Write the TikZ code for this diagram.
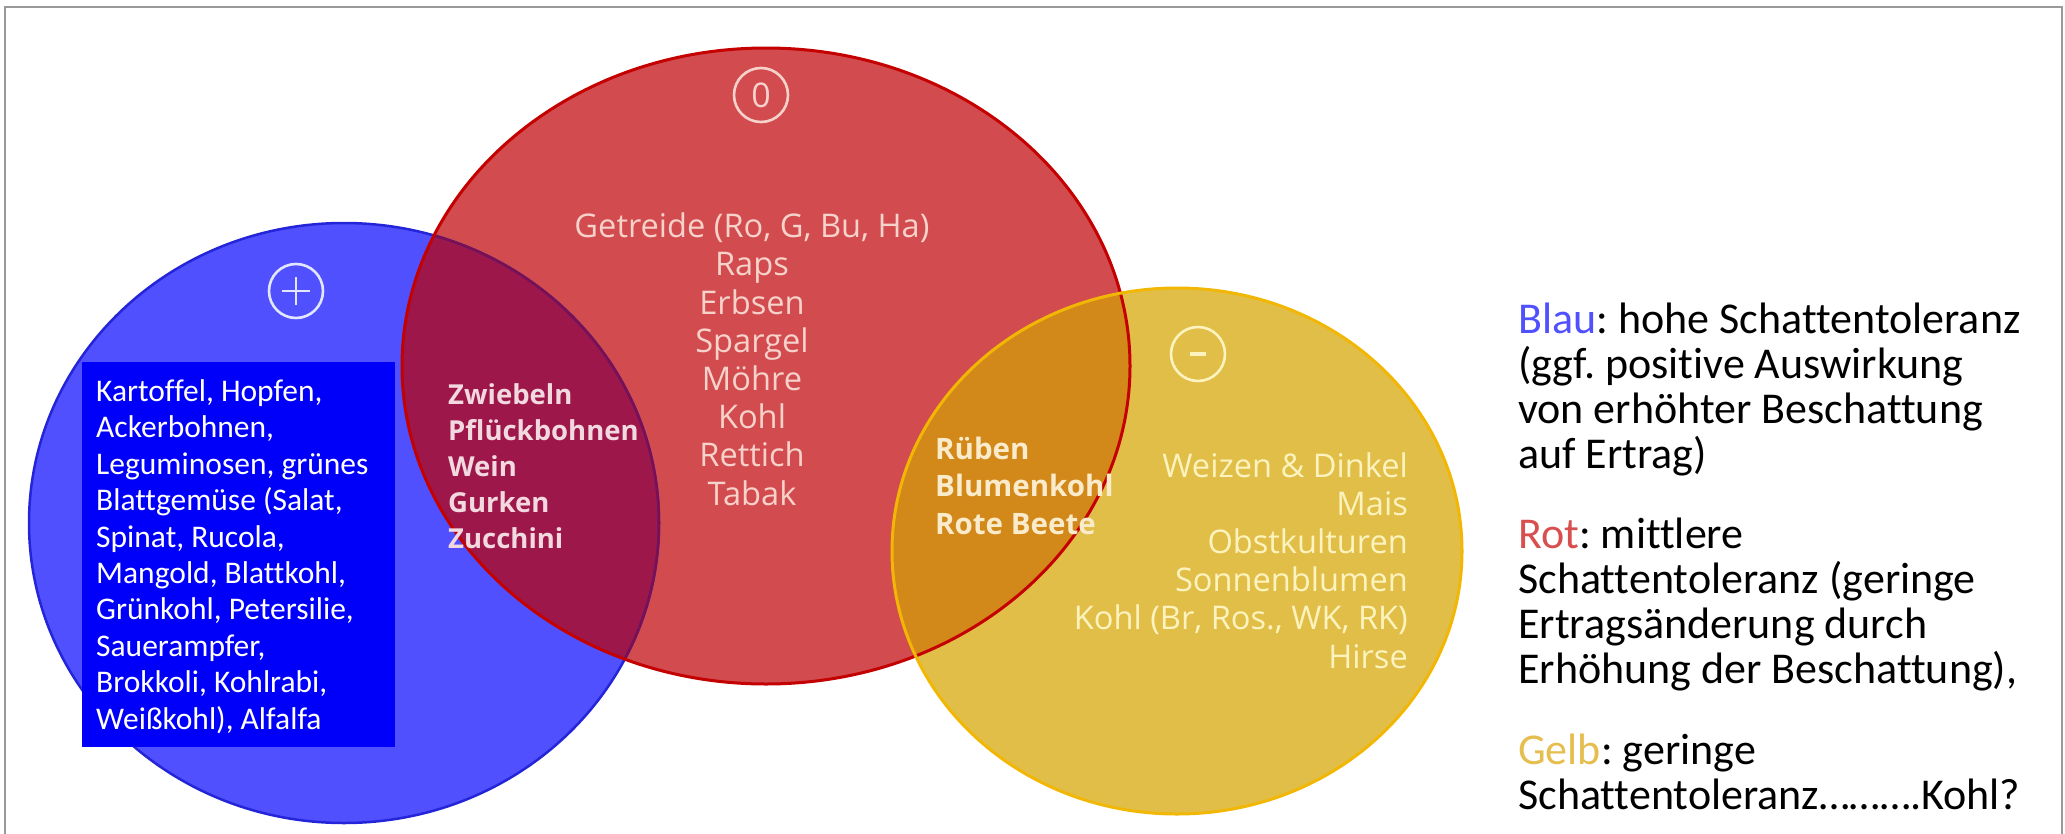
\documentclass[tikz,border=0pt]{standalone}
\usepackage{fontspec}
\setmainfont[Ligatures=NoCommon]{Carlito}
\newfontfamily\osans{Open Sans}
\definecolor{bluefill}{HTML}{5050FF}
\definecolor{blueline}{HTML}{2424D8}
\definecolor{boxblue}{HTML}{0000FA}
\definecolor{redfill}{HTML}{D24B4E}
\definecolor{redline}{HTML}{C40000}
\definecolor{yelfill}{HTML}{E1BE48}
\definecolor{yelline}{HTML}{F2B705}
\definecolor{brlens}{HTML}{9D174A}
\definecolor{brline}{HTML}{7A1050}
\definecolor{rylens}{HTML}{D3881A}
\definecolor{redtxt}{HTML}{F6D2CB}
\definecolor{lenstxt}{HTML}{F2D8DF}
\definecolor{orltxt}{HTML}{FAEBCB}
\definecolor{yeltxt}{HTML}{FDF3BE}
\definecolor{plustxt}{HTML}{E2E6FF}
\definecolor{legblue}{HTML}{5050FF}
\definecolor{legred}{HTML}{D94F4F}
\definecolor{legyel}{HTML}{E6BE50}
\begin{document}
\frenchspacing
\begin{tikzpicture}[x=1pt,y=-1pt,
  venntext/.style={inner sep=0pt, font=\osans\fontsize{32.6}{38.2}\selectfont},
  symb/.style={circle, draw, line width=2.6pt, minimum size=54pt, inner sep=0pt}]
\useasboundingbox (0,0) rectangle (2065,833);
\begin{scope}
\clip (0,0) rectangle (2065,833);
\draw[line width=2.5pt, black!40] (5,7) rectangle (2062,900);
\end{scope}
% circles
\fill[bluefill] (344,523) ellipse [x radius=315pt, y radius=300pt];
\fill[redfill] (766,366) ellipse [x radius=364pt, y radius=318pt];
\fill[yelfill] (1177,551) ellipse [x radius=285pt, y radius=263pt];
\begin{scope}
\clip (344,523) ellipse [x radius=315pt, y radius=300pt];
\fill[brlens] (766,366) ellipse [x radius=364pt, y radius=318pt];
\end{scope}
\begin{scope}
\clip (766,366) ellipse [x radius=364pt, y radius=318pt];
\fill[rylens] (1177,551) ellipse [x radius=285pt, y radius=263pt];
\end{scope}
\draw[blueline, line width=2.5pt] (344,523) ellipse [x radius=315pt, y radius=300pt];
\begin{scope}
\clip (766,366) ellipse [x radius=364pt, y radius=318pt];
\draw[brline, line width=2.5pt] (344,523) ellipse [x radius=315pt, y radius=300pt];
\end{scope}
\draw[redline, line width=3pt] (766,366) ellipse [x radius=364pt, y radius=318pt];
\draw[yelline, line width=3pt] (1177,551) ellipse [x radius=285pt, y radius=263pt];
% blue box
\fill[boxblue] (82,362) rectangle (395,747);
\node[anchor=base west, inner sep=0pt, align=left, text=white, font=\fontsize{31.5}{36.4}\selectfont] (bluetxt) at (96,729)
  {Kartoffel, Hopfen,\\Ackerbohnen,\\Leguminosen, grünes\\Blattgemüse (Salat,\\Spinat, Rucola,\\Mangold, Blattkohl,\\Grünkohl, Petersilie,\\Sauerampfer,\\Brokkoli, Kohlrabi,\\Weißkohl), Alfalfa};
% symbols
\node[symb, draw=plustxt] (plus) at (296,291) {};
\draw[plustxt, line width=2.6pt] ([xshift=-14pt]plus.center) -- ([xshift=14pt]plus.center);
\draw[plustxt, line width=2.6pt] ([yshift=-14pt]plus.center) -- ([yshift=14pt]plus.center);
\node[symb, draw=redtxt, text=redtxt, font=\osans\fontsize{34}{36}\selectfont] (zero) at (761,95) {0};
\node[symb, draw=yeltxt] (minus) at (1198,354) {};
\draw[yeltxt, line width=4pt] ([xshift=-8pt]minus.center) -- ([xshift=8pt]minus.center);
% texts
\node[venntext, anchor=base, align=center, text=redtxt] (redlist) at (752,505)
  {Getreide (Ro, G, Bu, Ha)\\Raps\\Erbsen\\Spargel\\Möhre\\Kohl\\Rettich\\Tabak};
\node[venntext, anchor=base west, align=left, text=lenstxt, font=\osans\bfseries\fontsize{27.5}{36}\selectfont] (lens) at (448,548)
  {Zwiebeln\\Pflückbohnen\\Wein\\Gurken\\Zucchini};
\node[venntext, anchor=base west, align=left, text=orltxt, font=\osans\bfseries\fontsize{29.5}{37.5}\selectfont] (orlens) at (935,534)
  {Rüben\\Blumenkohl\\Rote Beete};
\node[venntext, anchor=base east, align=right, text=yeltxt] (yellist) at (1408,668)
  {Weizen \& Dinkel\\Mais\\Obstkulturen\\Sonnenblumen\\Kohl (Br, Ros., WK, RK)\\Hirse};
% legend
\node[anchor=base west, inner sep=0pt, align=left, font=\fontsize{44}{45}\selectfont] (legend) at (1518,809)
  {\textcolor{legblue}{Blau}: hohe Schattentoleranz\\(ggf. positive Auswirkung\\von erhöhter Beschattung\\auf Ertrag)\\[35pt]
   \textcolor{legred}{Rot}: mittlere\\Schattentoleranz (geringe\\Ertragsänderung durch\\Erhöhung der Beschattung),\\[36pt]
   \textcolor{legyel}{Gelb}: geringe\\Schattentoleranz……….Kohl?};
\end{tikzpicture}
\end{document}
